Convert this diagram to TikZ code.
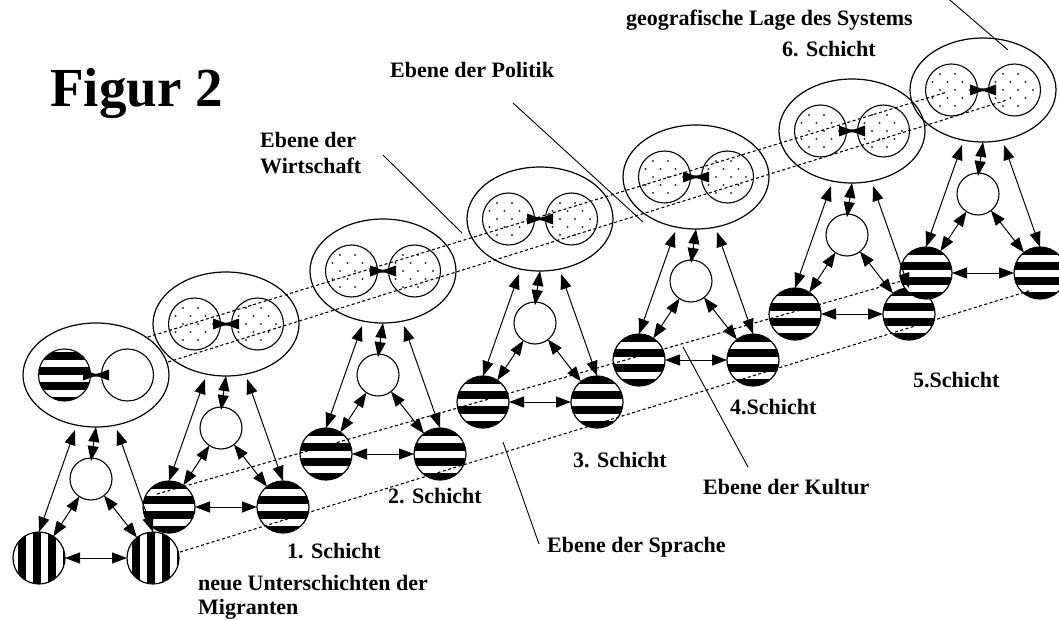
\documentclass[tikz,border=0pt]{standalone}
\usepackage{fontspec}
\setmainfont{Liberation Serif}
\usetikzlibrary{shapes.geometric,arrows.meta,calc}
\tikzset{
  bigell/.style={ellipse, draw, line width=1.2pt, minimum width=146pt, minimum height=104pt, inner sep=0pt, outer sep=0pt},
  innerc/.style={circle, draw, line width=1.1pt, minimum size=52pt, inner sep=0pt, outer sep=0pt},
  midc/.style={circle, draw, fill=white, line width=1.1pt, minimum size=42pt, inner sep=0pt, outer sep=0pt},
  botc/.style={circle, draw, line width=1.2pt, minimum size=52pt, inner sep=0pt, outer sep=0pt},
  link/.style={{Triangle[length=15pt,width=11pt]}-{Triangle[length=15pt,width=11pt]}, line width=1pt},
  corridor/.style={dash pattern=on 3pt off 2.5pt, line width=1.1pt},
  leader/.style={line width=0.9pt},
  lab/.style={font=\fontsize{22}{26}\selectfont\bfseries, inner sep=0pt, anchor=base west},
  bowtie/.style={fill=black},
}
\newcommand\hstripes[3]{%
  \begin{scope}
    \clip (#1,#2) circle (26);
    \fill[white] (#1,#2) circle (26);
    \foreach \k in {#3} \fill ({#1-27},{#2+\k-3.75}) rectangle ({#1+27},{#2+\k+3.75});
  \end{scope}}
\newcommand\vstripes[2]{%
  \begin{scope}
    \clip (#1,#2) circle (26);
    \fill[white] (#1,#2) circle (26);
    \foreach \k in {-32,-17,-2,13,28} \fill ({#1+\k-3.75},{#2-27}) rectangle ({#1+\k+3.75},{#2+27});
  \end{scope}}
\newcommand\dotdisc[2]{%
  \begin{scope}
    \clip (#1,#2) circle (23.5);
    \foreach \j in {-3,...,3} \foreach \i in {-2,...,2}
      \fill[black!80] ({#1+\i*15+mod(\j+10,2)*7.5+3.5},{#2+\j*8}) circle (1.1);
  \end{scope}}
\begin{document}
\begin{tikzpicture}[x=1pt,y=-1pt]
\useasboundingbox (0,0) rectangle (1059,620);
% ---------- shapes of the seven systems ----------
\foreach \n/\ex/\ey in {1/96/375,2/226/324,3/383/271,4/540/219,5/696/177,6/852/131,7/983/90}{
  \pgfmathsetmacro\lx{\ex-31.5}
  \pgfmathsetmacro\rx{\ex+31.5}
  \pgfmathsetmacro\mx{\ex-5}
  \pgfmathsetmacro\my{\ey+104}
  \pgfmathsetmacro\blx{\ex-57}
  \pgfmathsetmacro\brx{\ex+57}
  \pgfmathsetmacro\by{\ey+183}
  \ifnum\n=1
    \hstripes{\lx}{\ey}{-19,-4,11,26}
    \vstripes{\blx}{\by}
    \vstripes{\brx}{\by}
  \else
    \dotdisc{\lx}{\ey}
    \dotdisc{\rx}{\ey}
    \hstripes{\blx}{\by}{-22,-7,8,23}
    \hstripes{\brx}{\by}{-22,-7,8,23}
  \fi
  \node[bigell] (E\n) at (\ex,\ey) {};
  \node[innerc] (L\n) at (\lx,\ey) {};
  \node[innerc] (R\n) at (\rx,\ey) {};
  \node[midc] (M\n) at (\mx,\my) {};
  \node[botc] (BL\n) at (\blx,\by) {};
  \node[botc] (BR\n) at (\brx,\by) {};
}
% ---------- arrows and bow ties ----------
\foreach \n in {1,...,7}{
  \draw[link] ($(E\n.south)+(-21,3)$) -- (BL\n.north);
  \draw[link] ($(E\n.south)+(21,3)$) -- (BR\n.north);
  \draw[link] (E\n.south) -- ([yshift=-3pt]M\n.north);
  \draw[link] (M\n) -- (BL\n);
  \draw[link] (M\n) -- (BR\n);
  \draw[link] (BL\n) -- (BR\n);
  \fill[bowtie] (E\n) ++(-13,-5.5) -- ++(11,4) -- ++(4,0) -- ++(11,-4) -- ++(0,11) -- ++(-11,-4) -- ++(-4,0) -- ++(-11,4) -- cycle;
}
% ---------- dashed corridors ----------
\coordinate (c1a) at (148,337); \coordinate (c1b) at (947,92);
\coordinate (c2a) at (168,362); \coordinate (c2b) at (1007,100);
\coordinate (c3a) at (157,494); \coordinate (c3b) at (905,280);
\coordinate (c4a) at (180,552); \coordinate (c4b) at (1032,290);
\draw[corridor] (c1a) -- (c1b);
\draw[corridor] (c2a) -- (c2b);
\draw[corridor] (c3a) -- (c3b);
\draw[corridor] (c4a) -- (c4b);
% ---------- labels ----------
\node[inner sep=0pt, anchor=base west, font=\fontsize{55}{60}\selectfont\bfseries] (fig) at (50,107) {Figur 2};
\node[lab] (wirt1) at (260,148) {Ebene der};
\node[lab] (wirt2) at (260,174) {Wirtschaft};
\node[lab] (pol) at (390,78) {Ebene der Politik};
\node[lab] (geo) at (626,26) {geografische Lage des Systems};
\node[lab] (s6) at (782,57) {6. Schicht};
\node[lab] (s5) at (913,387) {5.Schicht};
\node[lab] (s4) at (730,414) {4.Schicht};
\node[lab] (s3) at (573,467) {3. Schicht};
\node[lab] (s2) at (388,503) {2. Schicht};
\node[lab] (s1) at (287,558) {1. Schicht};
\node[lab] (neu1) at (198,590) {neue Unterschichten der};
\node[lab] (neu2) at (198,614) {Migranten};
\node[lab] (kul) at (703,494) {Ebene der Kultur};
\node[lab] (spr) at (547,552) {Ebene der Sprache};
% ---------- leader lines ----------
\coordinate (w1) at (383,155); \coordinate (w2) at (462,233);
\coordinate (p1) at (513,103); \coordinate (p2) at (643,222);
\coordinate (g1) at (944,-5); \coordinate (g2) at (1008,50);
\coordinate (k1) at (683,347); \coordinate (k2) at (748,467);
\coordinate (sp1) at (503,442); \coordinate (sp2) at (539,544);
\draw[leader] (w1) -- (w2);
\draw[leader] (p1) -- (p2);
\draw[leader] (g1) -- (g2);
\draw[leader] (k1) -- (k2);
\draw[leader] (sp1) -- (sp2);
\end{tikzpicture}
\end{document}
